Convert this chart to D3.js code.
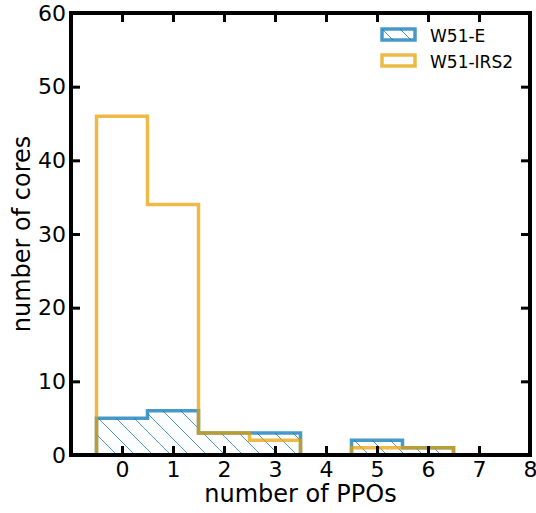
<!DOCTYPE html>
<html>
<head>
<meta charset="utf-8">
<script src="https://cdn.jsdelivr.net/npm/d3@7"></script>
<style>
  body { margin: 0; background: #fff; }
  text { font-family: "DejaVu Sans", sans-serif; fill: #000; }
</style>
</head>
<body>
<div id="wrapper"></div>
<script>
// bins: centred on integer PPO counts
const binEdges = [-0.5, 0.5, 1.5, 2.5, 3.5, 4.5, 5.5, 6.5];
const countsE = [5, 6, 3, 3, 0, 2, 1];
const countsIRS2 = [46, 34, 3, 2, 0, 1, 1];
const seriesNames = ["W51-E", "W51-IRS2"];
const xTicks = [0, 1, 2, 3, 4, 5, 6, 7, 8];
const yTicks = [0, 10, 20, 30, 40, 50, 60];

function drawChart() {
  const dimensions = {
    width: 536,
    height: 513,
    margin: { top: 13, right: 6, bottom: 58, left: 71 },
  };
  dimensions.boundedWidth =
    dimensions.width - dimensions.margin.left - dimensions.margin.right;
  dimensions.boundedHeight =
    dimensions.height - dimensions.margin.top - dimensions.margin.bottom;

  const svg = d3.select("#wrapper")
    .append("svg")
    .attr("width", dimensions.width)
    .attr("height", dimensions.height);

  const defs = svg.append("defs");
  const hatch = defs.append("pattern")
    .attr("id", "hatch")
    .attr("patternUnits", "userSpaceOnUse")
    .attr("width", 18)
    .attr("height", 18);
  [[0, 0, 18, 18], [-9, 9, 9, 27], [9, -9, 27, 9]].forEach(([x1, y1, x2, y2]) => {
    hatch.append("line")
      .attr("x1", x1).attr("y1", y1).attr("x2", x2).attr("y2", y2)
      .attr("stroke", "#0072B2")
      .attr("stroke-opacity", 0.7)
      .attr("stroke-width", 1);
  });

  const bounds = svg.append("g")
    .attr("transform", `translate(${dimensions.margin.left},${dimensions.margin.top})`);

  const xScale = d3.scaleLinear().domain([-1, 8]).range([0, dimensions.boundedWidth]);
  const yScale = d3.scaleLinear().domain([0, 60]).range([dimensions.boundedHeight, 0]);

  // step outline points for a histogram
  const stepPoints = (counts) => {
    const pts = [[binEdges[0], 0]];
    counts.forEach((c, i) => {
      pts.push([binEdges[i], c]);
      pts.push([binEdges[i + 1], c]);
    });
    pts.push([binEdges[binEdges.length - 1], 0]);
    return pts;
  };

  const line = d3.line()
    .x((d) => xScale(d[0]))
    .y((d) => yScale(d[1]));

  const colors = { E: "#0072B2", IRS2: "#E69F00" };

  // hatched fill under W51-E
  bounds.append("path")
    .attr("d", line(stepPoints(countsE)) + "Z")
    .attr("fill", "url(#hatch)")
    .attr("stroke", "none");

  bounds.append("path")
    .attr("d", line(stepPoints(countsE)))
    .attr("fill", "none")
    .attr("stroke", colors.E)
    .attr("stroke-opacity", 0.72)
    .attr("stroke-width", 3.5);

  bounds.append("path")
    .attr("d", line(stepPoints(countsIRS2)))
    .attr("fill", "none")
    .attr("stroke", colors.IRS2)
    .attr("stroke-opacity", 0.72)
    .attr("stroke-width", 3.5);

  // axes with inward ticks
  const tickStyle = (g) => {
    g.select(".domain").remove();
    g.selectAll(".tick line").attr("stroke", "#000").attr("stroke-width", 3);
    g.selectAll(".tick text")
      .attr("font-family", "DejaVu Sans")
      .style("font-size", "22px")
      .attr("fill", "#000");
  };

  bounds.append("g")
    .attr("transform", `translate(0,${dimensions.boundedHeight})`)
    .call(d3.axisBottom(xScale).tickValues(xTicks).tickSizeInner(-9).tickSizeOuter(0).tickPadding(6))
    .call(tickStyle);
  bounds.append("g")
    .call(d3.axisTop(xScale).tickValues(xTicks).tickSizeInner(-9).tickSizeOuter(0).tickFormat(""))
    .call(tickStyle);
  bounds.append("g")
    .call(d3.axisLeft(yScale).tickValues(yTicks).tickSizeInner(-9).tickSizeOuter(0).tickPadding(5))
    .call(tickStyle);
  bounds.append("g")
    .attr("transform", `translate(${dimensions.boundedWidth},0)`)
    .call(d3.axisRight(yScale).tickValues(yTicks).tickSizeInner(-9).tickSizeOuter(0).tickFormat(""))
    .call(tickStyle);

  // frame
  bounds.append("rect")
    .attr("width", dimensions.boundedWidth)
    .attr("height", dimensions.boundedHeight)
    .attr("fill", "none")
    .attr("stroke", "#000")
    .attr("stroke-width", 4);

  // axis labels
  svg.append("text")
    .attr("x", dimensions.margin.left + dimensions.boundedWidth / 2)
    .attr("y", 502)
    .style("text-anchor", "middle")
    .style("font-size", "24px")
    .text("number of PPOs");

  svg.append("text")
    .attr("transform", `translate(30,${dimensions.margin.top + dimensions.boundedHeight / 2}) rotate(-90)`)
    .style("text-anchor", "middle")
    .style("font-size", "24px")
    .text("number of cores");

  // legend
  const legend = svg.append("g").attr("transform", "translate(382,29)");
  [colors.E, colors.IRS2].forEach((c, i) => {
    const row = legend.append("g").attr("transform", `translate(0,${i * 26})`);
    if (i === 0) {
      row.append("rect")
        .attr("width", 33).attr("height", 11)
        .attr("fill", "url(#hatch)");
    }
    row.append("rect")
      .attr("width", 33).attr("height", 11)
      .attr("fill", "none")
      .attr("stroke", c)
      .attr("stroke-opacity", 0.72)
      .attr("stroke-width", 3.5);
    row.append("text")
      .attr("x", 48)
      .attr("y", 13)
      .style("font-size", "17px")
      .text(seriesNames[i]);
  });
}

drawChart();
</script>
</body>
</html>
